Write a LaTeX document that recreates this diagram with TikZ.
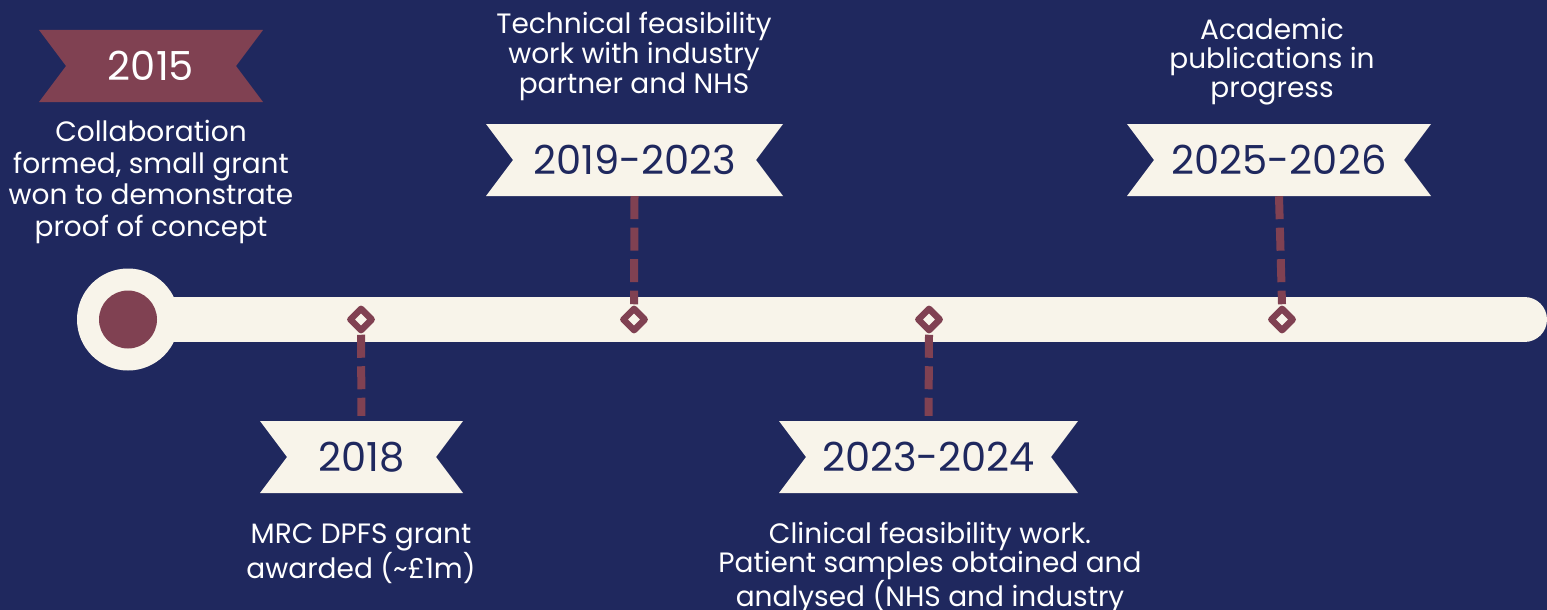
\documentclass[tikz,border=0pt]{standalone}
\usepackage{fontspec}
\setmainfont{Poppins}
\usetikzlibrary{shapes.geometric}

\definecolor{navy}{HTML}{1F285E}
\definecolor{cream}{HTML}{F8F4EA}
\definecolor{wine}{HTML}{804152}

\tikzset{
  flag/.style={fill=navy, minimum height=72pt, inner sep=0pt, text=navy,
    font=\fontsize{40}{44}\selectfont,
    path picture={
      \fill[#1] (path picture bounding box.north west)
        -- (path picture bounding box.north east)
        -- ([xshift=-27pt]path picture bounding box.east)
        -- (path picture bounding box.south east)
        -- (path picture bounding box.south west)
        -- ([xshift=27pt]path picture bounding box.west) -- cycle;}},
  flag/.default=cream,
  knot/.style={diamond, minimum size=24pt, inner sep=0pt, draw=wine,
    line width=6.5pt, line join=round, fill=cream},
  stem/.style={draw=wine, line width=8pt, dash pattern=on 23pt off 8.5pt},
  note/.style={text=white, align=center, font=\fontsize{28}{#1}\selectfont},
  note/.default=31.5
}

\begin{document}
\begin{tikzpicture}[x=1pt, y=-1pt]
    \useasboundingbox (0,0) rectangle (1547,610);
    \fill[navy] (0,0) rectangle (1547,610);
    % timeline bar and start point
    \draw[cream, line width=45pt, line cap=round] (128,319.5) -- (1524.5,319.5);
    \node[circle, fill=cream, minimum size=102pt, inner sep=0pt] (hub) at (128,319.5) {};
    \fill[wine] (hub.center) circle[radius=29];
    % markers on the bar
    \node[knot] (k2018) at (361,319.5) {};
    \node[knot] (k2019) at (634,319.5) {};
    \node[knot] (k2023) at (929,319.5) {};
    \node[knot] (k2025) at (1282,319.5) {};
    % year flags
    \node[flag=wine, text=white, minimum width=224pt] (f2015) at (151,66) {2015};
    \node[flag, minimum width=203pt] (f2018) at (361.5,457) {2018};
    \node[flag, minimum width=297pt] (f2019) at (634.5,160) {2019-2023};
    \node[flag, minimum width=299pt] (f2023) at (928.5,457) {2023-2024};
    \node[flag, minimum width=304pt] (f2025) at (1279,160) {2025-2026};
    % dashed stems
    \draw[stem] (k2018.south) -- (f2018.north) [shorten >=5pt];
    \draw[stem] (f2019.south) -- (k2019.north);
    \draw[stem] (k2023.south) -- (f2023.north) [shorten >=5pt];
    \draw[stem] (f2025.south) -- (k2025.north);
    % descriptions
    \node[note] (t2015) at (151,182) {Collaboration\\formed, small grant\\won to demonstrate\\proof of concept};
    \node[note=30] (t2019) at (634,56) {Technical feasibility\\work with industry\\partner and NHS};
    \node[note=29] (t2025) at (1272,61.5) {Academic\\publications in\\progress};
    \node[note=30] (t2018) at (361,554) {MRC DPFS grant\\awarded (\textasciitilde £1m)};
    \node[note=29] (t2023) at (930,568) {Clinical feasibility work.\\Patient samples obtained and\\analysed (NHS and industry};
\end{tikzpicture}
\end{document}
